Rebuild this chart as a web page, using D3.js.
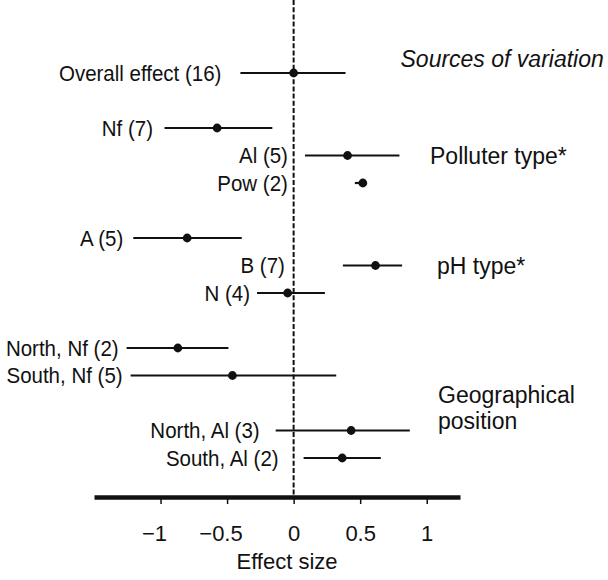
<!DOCTYPE html>
<html>
<head>
<meta charset="utf-8">
<script src="https://cdn.jsdelivr.net/npm/d3@7"></script>
<style>
  html, body { margin: 0; padding: 0; background: #fff; }
  svg { display: block; }
  text { font-family: "Liberation Sans", Arial, Helvetica, sans-serif; fill: #111; }
</style>
</head>
<body>
<svg id="chart" width="608" height="580"></svg>
<script>
// ---- data ----
const labels = ["Overall effect (16)", "Nf (7)", "Al (5)", "Pow (2)", "A (5)", "B (7)", "N (4)",
                "North, Nf (2)", "South, Nf (5)", "North, Al (3)", "South, Al (2)"];
const rows   = [0, 2, 3, 4, 6, 7, 8, 10, 11, 13, 14];
const effect = [0.00, -0.575, 0.405, 0.52, -0.80, 0.615, -0.045, -0.87, -0.46, 0.432, 0.365];
const lower  = [-0.40, -0.97, 0.085, 0.46, -1.205, 0.37, -0.275, -1.255, -1.225, -0.135, 0.075];
const upper  = [0.39, -0.16, 0.795, 0.55, -0.39, 0.815, 0.235, -0.49, 0.32, 0.873, 0.655];
const tickValues = [-1, -0.5, 0, 0.5, 1];
const axisTitle = "Effect size";
const headerText = "Sources of variation";
const groupTexts = [["Polluter type*"], ["pH type*"], ["Geographical", "position"]];
const groupRows  = [3, 7, 12];

// ---- layout ----
const labelGap = [19, 11.5, 17, 67, 10, 58, 7, 8, 8, 16, 25];
const groupX = [430, 437, 438];
const svg = d3.select("#chart");
const x = d3.scaleLinear().domain([-1.5, 1.25]).range([94, 460]);
const y = d3.scaleLinear().domain([0, 14]).range([73, 458]);
const axisY = 497;

const data = labels.map((l, i) => ({label: l, row: rows[i], est: effect[i], lo: lower[i], hi: upper[i], gap: labelGap[i]}));

// zero reference line
svg.append("line")
  .attr("x1", x(0)).attr("x2", x(0))
  .attr("y1", 0).attr("y2", axisY)
  .attr("stroke", "#111").attr("stroke-width", 2)
  .attr("stroke-dasharray", "5,2.2");

// CI lines
svg.selectAll("line.ci").data(data).enter().append("line")
  .attr("class", "ci")
  .attr("x1", d => x(d.lo)).attr("x2", d => x(d.hi))
  .attr("y1", d => y(d.row)).attr("y2", d => y(d.row))
  .attr("stroke", "#111").attr("stroke-width", 2.2);

// points
svg.selectAll("circle.pt").data(data).enter().append("circle")
  .attr("class", "pt")
  .attr("cx", d => x(d.est)).attr("cy", d => y(d.row))
  .attr("r", 4.4).attr("fill", "#111");

// row labels (slightly tall glyphs, as in the reference)
svg.selectAll("text.lab").data(data).enter().append("text")
  .attr("class", "lab")
  .attr("transform", d => `translate(${x(d.lo) - d.gap},${y(d.row) + 7.8}) scale(1,1.06)`)
  .attr("text-anchor", "end")
  .attr("font-size", 20.5)
  .text(d => d.label);

// header
svg.append("text")
  .attr("x", 400.5).attr("y", y(-0.5) + 8.2)
  .attr("font-size", 23).attr("font-style", "italic")
  .text(headerText);

// group labels
groupTexts.forEach((lines, g) => {
  lines.forEach((t, k) => {
    svg.append("text")
      .attr("x", groupX[g])
      .attr("y", (lines.length > 1 ? y(groupRows[g]) : y(groupRows[g]) + 8.3) + k * 25.6)
      .attr("font-size", 23)
      .text(t);
  });
});

// axis
const axis = d3.axisBottom(x)
  .tickValues(tickValues)
  .tickSize(7)
  .tickSizeOuter(0)
  .tickFormat(d => d3.format("")(d).replace("-", "\u2212"));
const gAxis = svg.append("g").attr("transform", `translate(0,${axisY})`).call(axis);
gAxis.select(".domain").attr("stroke", "#111").attr("stroke-width", 4.3);
gAxis.selectAll(".tick line").attr("stroke", "#111").attr("stroke-width", 1.5);
gAxis.selectAll(".tick text")
  .attr("font-family", "'Liberation Sans', Arial, sans-serif")
  .attr("font-size", 22)
  .attr("fill", "#111")
  .attr("y", 44).attr("dy", 0)
  .attr("dx", d => d < 0 ? "-0.3em" : 0)
  .attr("stroke", "none");

// axis title
svg.append("text")
  .attr("x", 287).attr("y", 569)
  .attr("text-anchor", "middle")
  .attr("font-size", 22)
  .text(axisTitle);
</script>
</body>
</html>
